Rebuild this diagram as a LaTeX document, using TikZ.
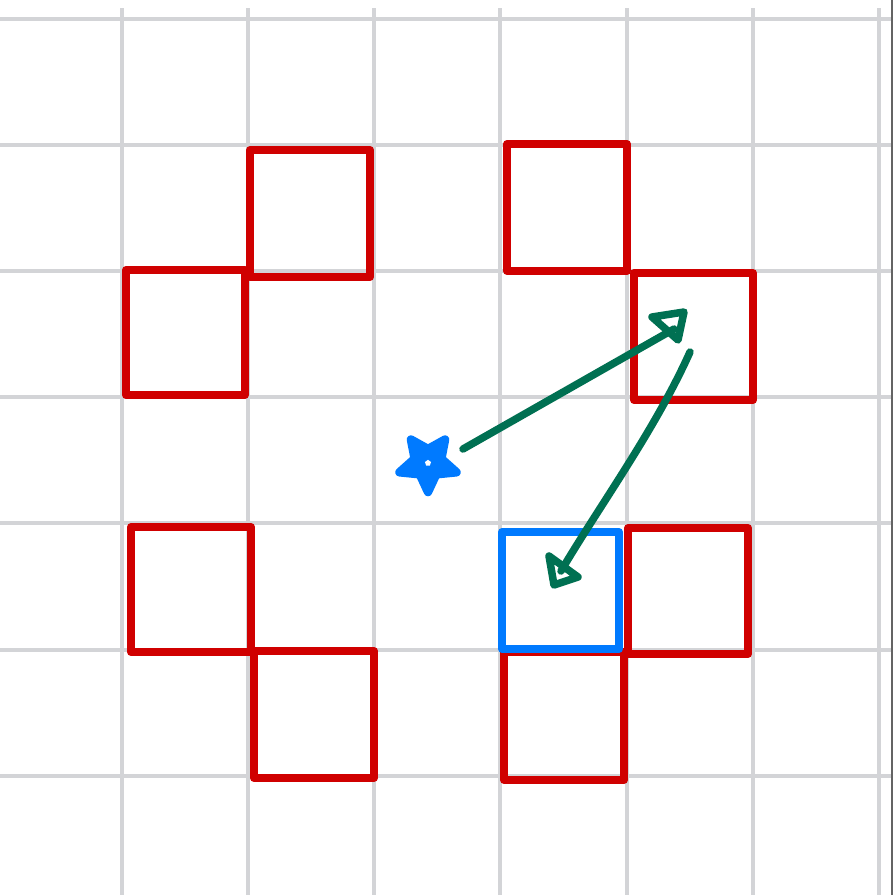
\documentclass[tikz,border=0pt]{standalone}
\definecolor{gridgray}{RGB}{211,212,215}
\definecolor{sqred}{RGB}{208,0,0}
\definecolor{sqblue}{RGB}{0,122,255}
\definecolor{arrgreen}{RGB}{0,112,82}
\definecolor{edgegray}{RGB}{100,100,100}
\tikzset{
  gridline/.style={draw=gridgray, line width=4pt},
  redsq/.style={draw=sqred, line width=8pt, line join=round},
  bluesq/.style={draw=sqblue, line width=8pt, line join=round},
  arrline/.style={draw=arrgreen, line width=7.5pt, line cap=round, line join=round},
  starshape/.style={fill=sqblue, draw=sqblue, line width=8.5pt, line join=round}
}
\begin{document}
\begin{tikzpicture}[x=1pt,y=-1pt]
\useasboundingbox (0,0) rectangle (893,895);
\fill[white] (0,0) rectangle (893,895);
% grid
\foreach \x in {122,248,374,500,627,753,879} \draw[gridline] (\x,8) -- (\x,895);
\foreach \y in {19,145,271,397,523,650,776} \draw[gridline] (0,\y) -- (893,\y);
\fill[edgegray] (890.5,0) rectangle (893,895);
% red squares
\draw[redsq] (250,150) rectangle (370,277);
\draw[redsq] (126,270) rectangle (245,395);
\draw[redsq] (507,144) rectangle (627,271);
\draw[redsq] (634,273) rectangle (753,400);
\draw[redsq] (131,527) rectangle (251,652);
\draw[redsq] (254,651) rectangle (374,778);
\draw[redsq] (628,528) rectangle (748,654);
\draw[redsq] (504,652) rectangle (624,780);
% blue square
\draw[bluesq] (502,532) rectangle (619,649);
% star
\begin{scope}[shift={(428,463)}]
\path[starshape] (90:29) -- (126:14) -- (162:30) -- (198:14) -- (234:29) -- (270:14) -- (306:29) -- (342:14) -- (18:30) -- (54:14) -- cycle;
\fill[white] (54:3.2) -- (126:3.2) -- (198:3.2) -- (270:3.2) -- (342:3.2) -- cycle;
\end{scope}
% arrows
\coordinate (s1) at (463,449);
\coordinate (e1) at (674,329);
\coordinate (s2) at (690,352);
\coordinate (e2) at (561,571);
\draw[arrline] (s1) -- (e1);
\draw[arrline] (652,317) -- (684,312) -- (678,340) -- cycle;
\draw[arrline] (s2) .. controls (655,430) and (600,505) .. (e2);
\draw[arrline] (549,556) -- (554,585) -- (578,577) -- cycle;
\end{tikzpicture}
\end{document}
